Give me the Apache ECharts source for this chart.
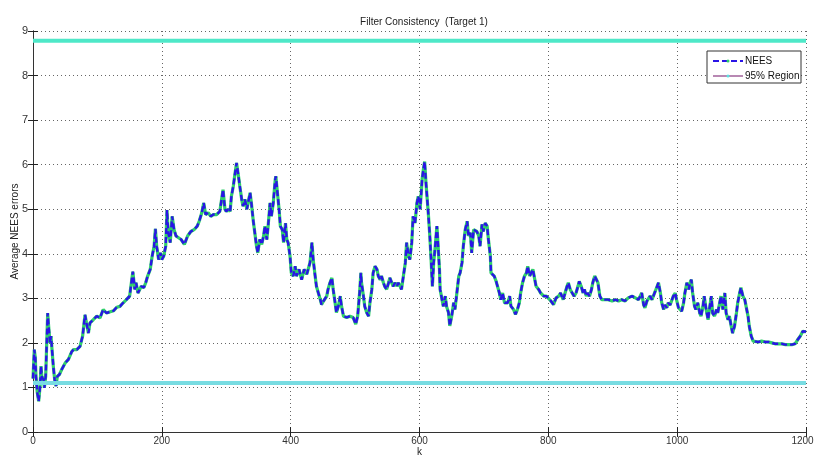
<!DOCTYPE html>
<html>
<head>
<meta charset="utf-8">
<script src="https://cdn.jsdelivr.net/npm/echarts@6/dist/echarts.min.js"></script>
<style>
  html, body { margin: 0; padding: 0; background: #fff; }
  #chart { width: 816px; height: 455px; }
</style>
</head>
<body>
<div id="chart"></div>
<script>
// Time steps k and the averaged NEES value at each step
const steps = [
  0, 2, 3.6, 4.6, 6.7, 8.8, 11, 12.4, 14, 16, 17.6, 19.7, 21, 22.8, 24.3, 26.4, 28, 29.5, 31.5, 33.6,
  35.7, 37.8, 41, 44.5, 50, 55, 60, 63, 68, 73, 77, 80.7, 83, 86, 88.5, 93.6, 99, 104, 109, 114,
  120, 125, 130, 135, 140, 145, 150, 152, 155, 158, 160, 163, 168, 172, 175, 178, 182, 185, 188, 190,
  192, 195, 198, 200, 203, 206, 208, 210, 213, 216, 219, 222, 225, 230, 235, 240, 245, 250, 255, 258,
  262, 265, 268, 272, 276, 280, 285, 290, 295, 298, 300, 303, 306, 308, 311, 313, 316, 319, 321, 324,
  326, 329, 332, 337, 339, 342, 345, 347, 349, 352, 355, 358, 360, 363, 365, 368, 370, 373, 376, 377,
  380, 382, 384, 387, 389, 392, 394, 396, 399, 401, 404, 407, 409, 413, 417, 421, 425, 427, 430, 433,
  435, 438, 440, 443, 446, 448, 451, 453, 456, 458, 461, 464, 466, 469, 471, 474, 477, 479, 482, 487,
  492, 497, 501, 504, 507, 509, 510, 513, 515, 518, 521, 523, 526, 528, 531, 534, 536, 539, 541, 544,
  546, 549, 552, 554, 557, 559, 562, 565, 567, 570, 572, 575, 578, 580, 583, 585, 588, 590, 593, 596,
  598, 601, 604, 606, 608, 610, 612, 614, 616, 618, 620, 622, 624, 627, 628, 631, 632, 635, 637, 640,
  642, 645, 647, 650, 653, 655, 658, 661, 663, 666, 668, 671, 674, 676, 679, 681, 684, 686, 689, 692,
  694, 697, 699, 702, 705, 707, 710, 711, 714, 716, 719, 722, 724, 726, 729, 732, 735, 737, 740, 742,
  746, 749, 752, 755, 757, 760, 763, 766, 768, 771, 773, 776, 779, 781, 785, 788, 793, 797, 800, 804,
  808, 812, 816, 819, 823, 826, 829, 831, 834, 837, 840, 843, 846, 848, 851, 854, 856, 859, 861, 864,
  867, 869, 872, 874, 877, 880, 883, 888, 893, 899, 904, 909, 914, 919, 924, 930, 932, 935, 937, 940,
  943, 945, 948, 950, 953, 956, 958, 961, 963, 966, 968, 971, 974, 976, 979, 981, 984, 986, 989, 992,
  994, 997, 999, 1002, 1005, 1007, 1010, 1012, 1015, 1018, 1020, 1022, 1024, 1027, 1029, 1032, 1035, 1037, 1040, 1042,
  1045, 1048, 1050, 1053, 1055, 1058, 1061, 1063, 1066, 1068, 1071, 1074, 1076, 1079, 1081, 1084, 1086, 1089, 1092, 1094,
  1097, 1099, 1102, 1105, 1107, 1110, 1112, 1115, 1118, 1121, 1126, 1131, 1137, 1142, 1147, 1152, 1157, 1162, 1168, 1173,
  1178, 1183, 1187, 1191, 1195, 1198, 1200
];
const nees = [
  1.2, 1.85, 1.66, 1.25, 0.88, 0.69, 1.03, 1.48, 1.18, 1.25, 0.99, 1.25, 1.85, 2.67, 2.37, 2.0, 2.15, 1.85, 1.48, 1.18,
  1.03, 1.25, 1.29, 1.4, 1.55, 1.63, 1.8, 1.85, 1.85, 1.92, 2.15, 2.63, 2.45, 2.22, 2.45, 2.52, 2.6, 2.56, 2.75, 2.67,
  2.7, 2.72, 2.8, 2.82, 2.9, 2.97, 3.05, 3.27, 3.6, 3.2, 3.35, 3.12, 3.27, 3.24, 3.35, 3.5, 3.65, 3.95, 4.17, 4.56,
  4.17, 3.87, 4.02, 3.87, 3.95, 4.17, 4.98, 4.47, 4.25, 4.84, 4.54, 4.4, 4.43, 4.32, 4.21, 4.4, 4.5, 4.54, 4.62, 4.73,
  4.92, 5.14, 4.88, 4.92, 4.84, 4.88, 4.88, 4.95, 5.44, 5.0, 4.95, 5.0, 4.95, 5.29, 5.52, 5.74, 6.04, 5.74, 5.52, 5.22,
  5.07, 5.22, 5.0, 5.37, 5.14, 4.73, 4.4, 4.17, 4.02, 4.32, 4.21, 4.4, 4.62, 4.32, 4.62, 5.14, 4.84, 5.14, 5.66, 5.74,
  5.29, 5.0, 4.62, 4.54, 4.25, 4.69, 4.32, 4.25, 3.95, 3.57, 3.5, 3.72, 3.5, 3.65, 3.42, 3.65, 3.54, 3.57, 3.8, 4.25,
  3.87, 3.5, 3.27, 3.12, 2.97, 2.86, 2.94, 2.97, 3.05, 3.2, 3.35, 3.46, 3.2, 2.9, 2.68, 2.82, 3.05, 2.82, 2.6, 2.57,
  2.6, 2.57, 2.42, 2.6, 3.12, 3.57, 3.35, 3.05, 2.82, 2.68, 2.6, 2.9, 3.2, 3.57, 3.72, 3.65, 3.5, 3.42, 3.5, 3.35,
  3.27, 3.2, 3.35, 3.46, 3.42, 3.27, 3.35, 3.27, 3.35, 3.27, 3.2, 3.5, 3.8, 4.25, 3.95, 3.87, 4.25, 4.84, 4.69, 5.14,
  5.29, 5.0, 5.66, 5.89, 6.07, 5.6, 5.22, 4.84, 4.4, 3.87, 3.27, 3.8, 4.1, 4.62, 4.4, 3.65, 3.2, 2.97, 2.82, 3.05,
  2.82, 2.68, 2.38, 2.6, 2.9, 2.75, 3.12, 3.5, 3.57, 3.8, 4.17, 4.54, 4.73, 4.4, 4.47, 4.02, 4.54, 4.54, 4.5, 4.4,
  4.17, 4.66, 4.5, 4.69, 4.62, 4.32, 3.95, 3.57, 3.57, 3.5, 3.38, 3.42, 3.12, 2.97, 3.12, 2.9, 2.94, 2.9, 3.05, 2.82,
  2.75, 2.64, 2.75, 2.9, 3.12, 3.35, 3.5, 3.57, 3.72, 3.5, 3.54, 3.65, 3.42, 3.27, 3.2, 3.12, 3.05, 3.05, 3.01, 2.94,
  2.86, 3.01, 3.05, 3.12, 2.97, 3.12, 3.27, 3.35, 3.2, 3.12, 3.05, 3.12, 3.27, 3.38, 3.27, 3.12, 3.2, 3.05, 3.12, 3.05,
  3.2, 3.35, 3.5, 3.54, 3.35, 3.05, 2.97, 2.97, 2.97, 2.94, 2.97, 2.94, 2.97, 2.94, 3.01, 3.05, 3.08, 3.01, 3.05, 2.97,
  2.94, 3.12, 2.85, 2.79, 2.94, 2.9, 3.05, 2.97, 3.05, 3.16, 3.2, 3.35, 3.12, 2.9, 2.75, 2.85, 2.79, 2.9, 2.85, 2.97,
  3.05, 3.12, 2.97, 2.79, 2.82, 2.71, 2.9, 3.12, 3.35, 3.2, 3.35, 3.42, 3.12, 2.82, 2.75, 2.9, 2.67, 2.6, 2.82, 3.05,
  2.75, 2.52, 2.75, 3.05, 2.67, 2.6, 2.75, 2.67, 2.9, 3.05, 2.75, 3.12, 2.67, 2.52, 2.6, 2.37, 2.22, 2.37, 2.67, 2.9,
  3.12, 3.24, 3.05, 2.97, 2.82, 2.6, 2.37, 2.15, 2.04, 2.0, 2.02, 2.04, 2.02, 2.02, 2.0, 1.98, 1.98, 1.98, 1.96, 1.96,
  1.96, 1.98, 2.07, 2.15, 2.26, 2.3, 2.25
];
// Bounds of the 95% probability region
const regionLower = 1.1;
const regionUpper = 8.78;
const kRange = [0, 1200];
const yRange = [0, 9];
const xTickStep = 200;
const yTickStep = 1;

const neesPoints = steps.map((k, i) => [k, nees[i]]);
const upperLine = kRange.map(k => [k, regionUpper]);
const lowerLine = kRange.map(k => [k, regionLower]);

const FONT = '"Liberation Sans", Arial, sans-serif';
const frame = { show: true, lineStyle: { color: '#333', width: 1 } };
const dotted = { show: true, lineStyle: { color: '#666', type: [1, 3], width: 1 } };
const innerTick = { show: true, inside: true, length: 5, lineStyle: { color: '#222' } };
const plain = v => String(v);
// last k label is nudged left so it stays inside the canvas
const kLabel = v => (v === kRange[1] ? '{edge|' + v + '}' : String(v));

const chart = echarts.init(document.getElementById('chart'), null, { renderer: 'canvas' });

chart.setOption({
  animation: false,
  backgroundColor: '#fff',
  title: {
    text: 'Filter Consistency  (Target 1)',
    left: 419, top: 12, textAlign: 'center',
    textStyle: { fontFamily: FONT, fontSize: 10, fontWeight: 'normal', color: '#222' }
  },
  grid: { left: 33, right: 10, top: 31, bottom: 23, containLabel: false, outerBoundsMode: 'none' },
  xAxis: [{
    type: 'value', min: kRange[0], max: kRange[1], interval: xTickStep,
    name: 'k', nameLocation: 'middle', nameGap: 15, nameMoveOverlap: false,
    nameTextStyle: { fontFamily: FONT, fontSize: 10, color: '#222' },
    axisLine: frame, axisTick: innerTick,
    axisLabel: {
      fontFamily: FONT, fontSize: 10, color: '#333', margin: 4, formatter: kLabel,
      rich: { edge: { fontFamily: FONT, fontSize: 10, color: '#333', padding: [0, 7, 0, 0] } }
    },
    splitLine: dotted
  }, {
    type: 'value', position: 'top', min: kRange[0], max: kRange[1], interval: xTickStep,
    axisLine: frame, axisTick: innerTick,
    axisLabel: { show: false }, splitLine: { show: false }
  }],
  yAxis: [{
    type: 'value', min: yRange[0], max: yRange[1], interval: yTickStep,
    name: 'Average NEES errors', nameLocation: 'middle', nameGap: 13, nameMoveOverlap: false,
    nameTextStyle: { fontFamily: FONT, fontSize: 10, color: '#222' },
    axisLine: frame, axisTick: innerTick,
    axisLabel: { fontFamily: FONT, fontSize: 11, color: '#333', margin: 5, formatter: plain },
    splitLine: dotted
  }, {
    type: 'value', position: 'right', min: yRange[0], max: yRange[1], interval: yTickStep,
    axisLine: frame, axisTick: innerTick,
    axisLabel: { show: false }, splitLine: { show: false }
  }],
  series: [
    {
      name: 'NEES markers', type: 'line', data: neesPoints, showSymbol: false, z: 2,
      lineStyle: { color: '#2fcf6a', width: 3.2 }, silent: true
    },
    {
      name: 'NEES', type: 'line', data: neesPoints, showSymbol: false, z: 3,
      lineStyle: { color: '#2a14e6', width: 2.4, type: [6, 3] }, silent: true
    },
    {
      name: '95% Region', type: 'line', data: upperLine, showSymbol: false, z: 4,
      lineStyle: { color: '#4ee8c8', width: 4 }, silent: true
    },
    {
      name: '95% Region lower', type: 'line', data: lowerLine, showSymbol: false, z: 4,
      lineStyle: { color: '#78dce2', width: 4 }, silent: true
    }
  ],
  graphic: [
    { type: 'rect', shape: { x: 707, y: 51, width: 94, height: 32 }, z: 100,
      style: { fill: '#fff', stroke: '#333', lineWidth: 1 } },
    { type: 'line', shape: { x1: 713, y1: 61, x2: 743, y2: 61 }, z: 101,
      style: { stroke: '#2a14e6', lineWidth: 1.8, lineDash: [6, 3] } },
    { type: 'circle', shape: { cx: 728, cy: 61, r: 1.5 }, z: 102, style: { fill: '#2fcf6a' } },
    { type: 'text', x: 745, y: 61, z: 101,
      style: { text: 'NEES', font: '10px ' + FONT, fill: '#111', verticalAlign: 'middle' } },
    { type: 'line', shape: { x1: 713, y1: 76, x2: 743, y2: 76 }, z: 101,
      style: { stroke: '#a0609a', lineWidth: 1.5 } },
    { type: 'circle', shape: { cx: 728, cy: 76, r: 1.5 }, z: 102, style: { fill: '#5ee0e0' } },
    { type: 'text', x: 745, y: 76, z: 101,
      style: { text: '95% Region', font: '10px ' + FONT, fill: '#111', verticalAlign: 'middle' } }
  ]
});
</script>
</body>
</html>
